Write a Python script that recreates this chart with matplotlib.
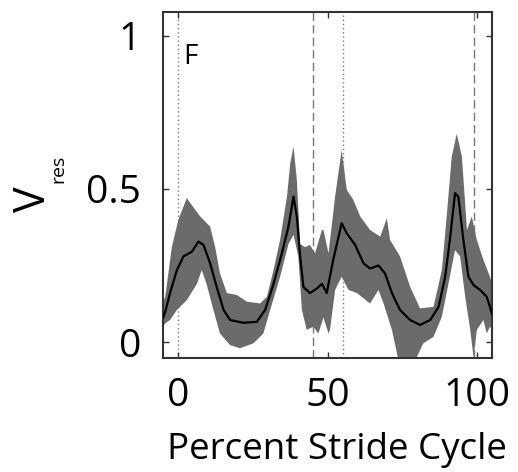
import numpy as np
import matplotlib
matplotlib.use('Agg')
import matplotlib.pyplot as plt

plt.rcParams['font.family'] = ['Open Sans', 'DejaVu Sans']

# mean curve (percent stride cycle, V_res)
x_mean = [-5, -4.3, -2.7, -0.4, 1.8, 4.6, 6.8, 8.5, 10.7, 12.9, 15.2, 17.4, 21.8, 26.3, 29.1,
          31.9, 34.7, 36.9, 38.6, 39.7, 40.8, 41.9, 44.1, 46.4, 48.1, 49.7, 51.9, 54.7, 56.4,
          59.2, 62, 64.2, 67, 69.2, 71.5, 74.2, 77.6, 80.9, 84.3, 87.1, 89.3, 91, 92.6, 93.7,
          95.4, 97.1, 98.8, 101, 103.2, 104.3, 105]
y_mean = [0.08, 0.099, 0.16, 0.235, 0.28, 0.295, 0.328, 0.317, 0.257, 0.18, 0.105, 0.072, 0.063,
          0.066, 0.105, 0.19, 0.29, 0.377, 0.475, 0.41, 0.28, 0.18, 0.16, 0.175, 0.19, 0.16,
          0.27, 0.388, 0.355, 0.317, 0.257, 0.24, 0.25, 0.224, 0.16, 0.105, 0.072, 0.056, 0.072,
          0.115, 0.213, 0.344, 0.486, 0.475, 0.333, 0.213, 0.186, 0.17, 0.148, 0.115, 0.09]

# upper edge of the shaded band
x_up = [-5, -4.3, -2.1, 0.1, 2.9, 5.1, 7.4, 10.7, 12.4, 14, 16.3, 19.6, 23, 27.4, 29.7, 31.9,
        34.1, 36.4, 37.5, 38.6, 39.7, 40.8, 42.5, 44.1, 45.8, 48.1, 48.6, 50.3, 52.5, 54.7,
        56.4, 58.6, 60.9, 64.2, 67.6, 69.8, 70.9, 74.2, 77.6, 80.9, 85.4, 88.2, 89.9, 91.5,
        93.2, 94.9, 96.6, 98.2, 99.9, 102.1, 104.3, 105]
y_up = [0.13, 0.148, 0.31, 0.40, 0.47, 0.44, 0.41, 0.377, 0.31, 0.224, 0.16, 0.154, 0.132,
        0.126, 0.148, 0.235, 0.333, 0.475, 0.584, 0.638, 0.53, 0.32, 0.31, 0.317, 0.29, 0.366,
        0.366, 0.29, 0.475, 0.627, 0.497, 0.464, 0.41, 0.366, 0.344, 0.404, 0.333, 0.28, 0.18,
        0.11, 0.115, 0.235, 0.42, 0.605, 0.68, 0.605, 0.366, 0.41, 0.333, 0.268, 0.213, 0.19]

# lower edge of the shaded band
x_lo = [-5, -4.3, -2.7, -0.4, 2.9, 6.3, 7.9, 9.5, 11.8, 14, 17.4, 20.7, 25.2, 28.5, 30.8, 34.1,
        36.9, 38.6, 40.2, 41.4, 43, 45.2, 46.9, 48.6, 50.3, 50.8, 52.5, 54.7, 57, 59.8, 64.2,
        67, 68.7, 71.5, 73.7, 76.5, 79.3, 82, 85.4, 88.2, 90.4, 92.6, 94.3, 96, 97.7, 98.8,
        99.9, 102.1, 103.2, 104.3, 105]
y_lo = [0.05, 0.061, 0.072, 0.105, 0.137, 0.19, 0.235, 0.19, 0.105, 0.028, -0.01, -0.02, -0.004,
        0.028, 0.105, 0.213, 0.32, 0.35, 0.28, 0.105, 0.04, 0.05, 0.028, 0.08, 0.028, 0.04, 0.17,
        0.213, 0.17, 0.16, 0.126, 0.17, 0.126, 0.04, -0.06, -0.07, -0.06, -0.004, 0.017, 0.083,
        0.19, 0.30, 0.28, 0.148, 0.04, -0.05, 0.04, 0.072, 0.028, 0.05, 0.04]

dotted_at = [0, 55]
dashed_at = [45, 99]

fig = plt.figure(figsize=(5.18, 4.72), dpi=100)
ax = fig.add_axes([0.315, 0.2415, 0.635, 0.7335])

ax.fill(np.r_[x_up, x_lo[::-1]], np.r_[y_up, y_lo[::-1]], color='#6b6b6b', lw=0, zorder=2)
ax.plot(x_mean, y_mean, color='black', lw=1.6, zorder=3)

for xv in dotted_at:
    ax.axvline(xv, color='#777777', lw=1, ls=(0, (1, 2)), zorder=1)
for xv in dashed_at:
    ax.axvline(xv, color='#777777', lw=1, ls=(0, (6, 3)), zorder=1)

ax.text(1.7, 0.975, 'F', fontsize=20, va='top', ha='left')

ax.set_xlim(-5, 105)
ax.set_ylim(-0.052, 1.078)
ax.set_xticks([0, 50, 100])
ax.set_yticks([0, 0.5, 1])
ax.set_yticklabels(['0', '0.5', '1'])
ax.tick_params(direction='in', length=4, width=1, color='#333333', labelsize=28,
               top=True, right=True)
ax.tick_params(axis='y', pad=16)
ax.tick_params(axis='x', pad=14)
for s in ax.spines.values():
    s.set_linewidth(1.5)
    s.set_color('#333333')

ax.set_xlabel('Percent Stride Cycle', fontsize=26.5)
ax.xaxis.set_label_coords(0.527, -0.215)
ax.xaxis.label.set_va('top')

# y label: V with a small rotated subscript
ax.set_ylabel('V', fontsize=31)
ax.yaxis.set_label_coords(-0.325, 0.46)
ax.text(-0.345, 0.545, 'res', transform=ax.transAxes, rotation=90, fontsize=14,
        ha='left', va='center')

fig.savefig('out.png', dpi=100)
